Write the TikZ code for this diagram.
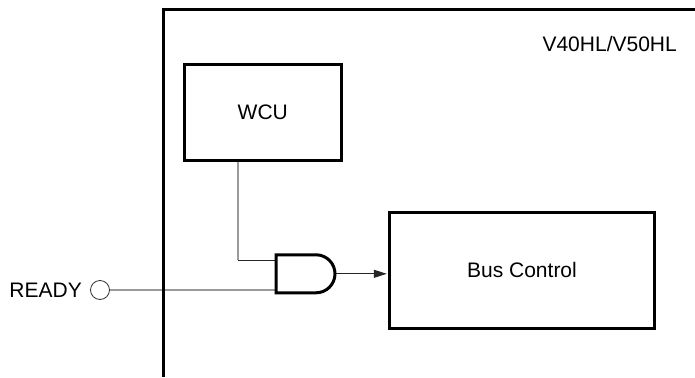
\documentclass[tikz,border=0pt]{standalone}
\usepackage{fontspec}
\setmainfont{Liberation Sans}
\usetikzlibrary{arrows.meta}
\definecolor{wiregray}{HTML}{9A9A9A}
\begin{document}
\begin{tikzpicture}[x=1pt,y=-1pt,
  font=\fontsize{21}{25}\selectfont,
  thickbox/.style={draw=black, line width=3pt, inner sep=0pt, fill=white},
  graywire/.style={draw=wiregray, line width=1.2pt},
  darkwire/.style={draw=black!85, line width=1pt},
  plainlabel/.style={inner sep=0pt}]
\useasboundingbox (0,0) rectangle (695,377);

% blocks
\node[thickbox, minimum width=156.5pt, minimum height=95.2pt] (wcu) at (262.8,112.4) {WCU};
\node[thickbox, minimum width=264.4pt, minimum height=116.3pt] (bus) at (522,270.4) {Bus Control};
\node[plainlabel, anchor=east] (chip) at (677,44) {V40HL/V50HL};

% READY pin
\node[plainlabel, anchor=east] (readylbl) at (82,290) {READY};
\node[circle, draw=black!80, line width=0.8pt, minimum size=19pt, inner sep=0pt] (pin) at (100,290) {};

% AND gate
\coordinate (g1) at (276,260);
\coordinate (g2) at (276,290);
\coordinate (gout) at (335,273.8);
\coordinate (bend) at (238,260);

% wires
\draw[graywire] (wcu.south -| bend) -- (bend);
\draw[darkwire] (bend) -- (g1);
\draw[graywire] (pin.east) -- (g2);
\draw[darkwire, -{Triangle[length=13pt,width=8pt]}, shorten >=1.5pt] (gout) -- (gout -| bus.west);

\draw[line width=3pt, line join=miter, fill=white]
  (276,254.8) -- (316,254.8)
  .. controls (326.49,254.8) and (335,263.31) .. (335,273.8)
  .. controls (335,284.29) and (326.49,292.8) .. (316,292.8)
  -- (276,292.8) -- cycle;

% chip frame (open to the right and bottom)
\draw[line width=3pt, line join=miter] (695,10) -- (163,10) -- (163,377);
\end{tikzpicture}
\end{document}
